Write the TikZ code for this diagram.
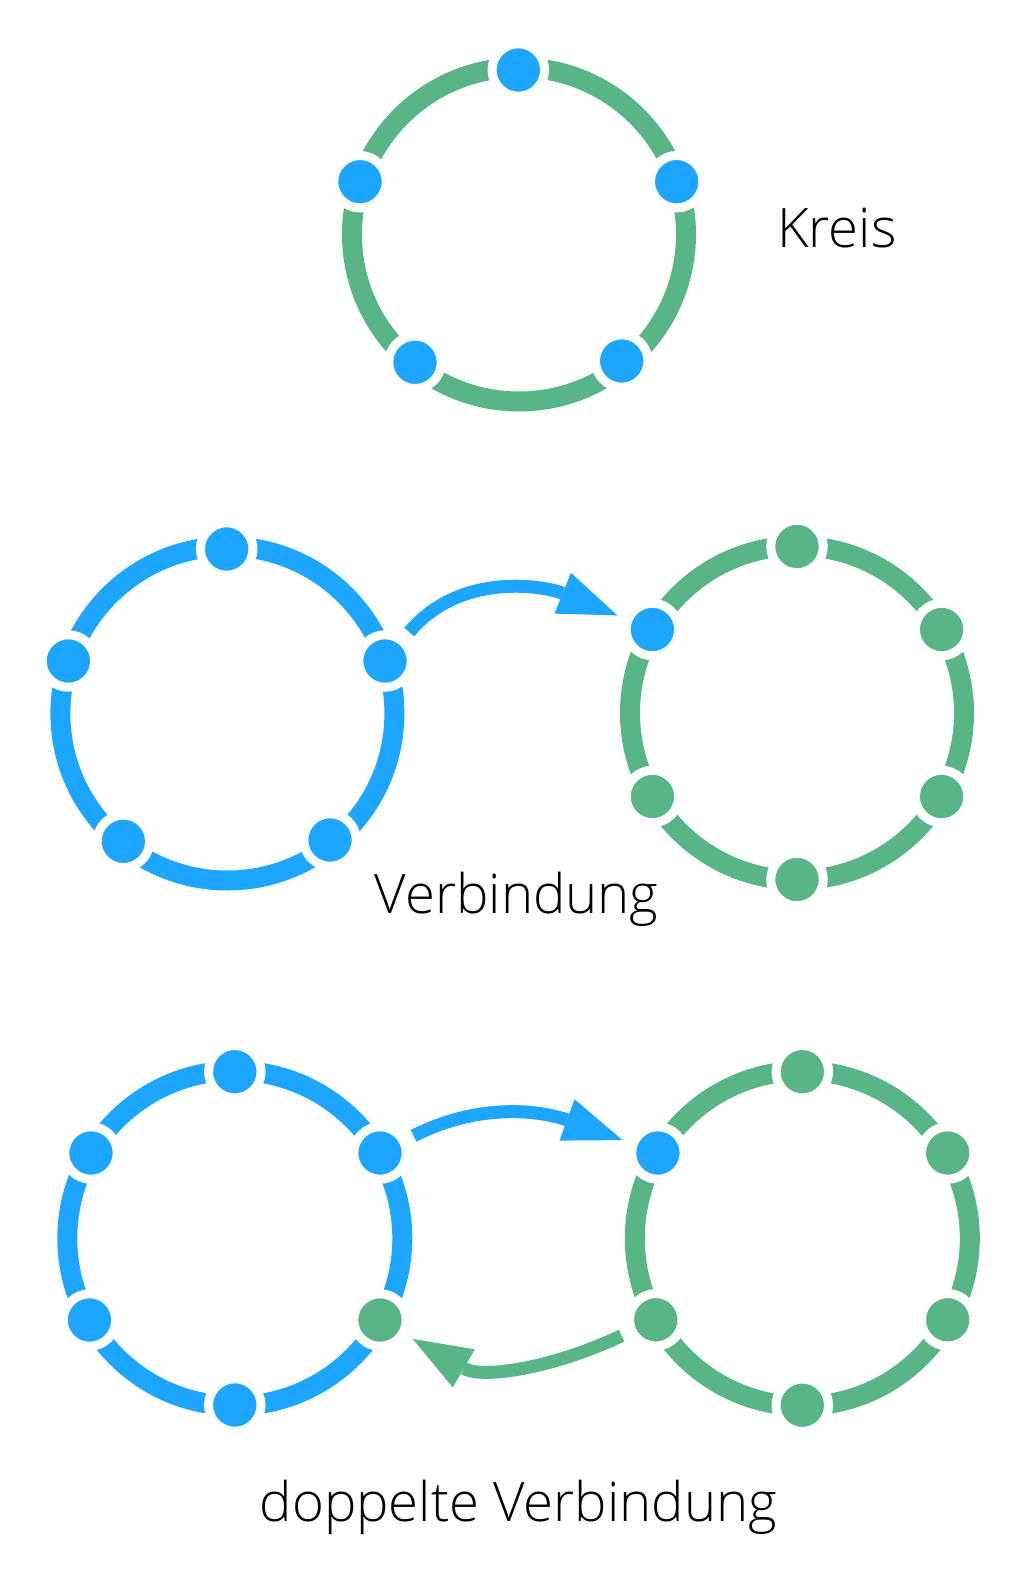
\documentclass[tikz,border=0pt]{standalone}
\usepackage{fontspec}
\setmainfont{Open Sans Light}
\usepackage{tikz}
\usetikzlibrary{arrows.meta}
\definecolor{ringblue}{HTML}{1DA6FF}
\definecolor{ringgreen}{HTML}{57B586}
\tikzset{
  ring/.style={line width=0.4cm},
  dot/.style={circle, draw=white, line width=0.18cm, minimum size=1.05cm, inner sep=0pt},
  bluedot/.style={dot, fill=ringblue},
  greendot/.style={dot, fill=ringgreen},
  link/.style={line width=0.26cm, -{Triangle[length=1.18cm,width=0.88cm,line width=0pt]},
    shorten <=0.14cm, shorten >=0.14cm},
  caption/.style={font=\fontsize{31}{36}\selectfont, anchor=base}
}
\begin{document}
\begin{tikzpicture}[x=0.02cm, y=0.02cm]
          \useasboundingbox (0, 0) rectangle (1030, -1594);

          \draw[ring, ringgreen] (519, -234.5) circle (167);
          \draw[ring, ringblue] (227.4, -713.5) circle (167);
          \draw[ring, ringgreen] (797, -713) circle (167);
          \draw[ring, ringblue] (234.8, -1238.3) circle (167.5);
          \draw[ring, ringgreen] (802.3, -1238.4) circle (167.5);

          \node[bluedot] (kt) at (518.3, -70) {};
          \node[bluedot] (kl) at (360, -181.7) {};
          \node[bluedot] (kr) at (676.7, -181.7) {};
          \node[bluedot] (kll) at (415, -362.3) {};
          \node[bluedot] (klr) at (621.7, -361) {};

          \node[bluedot] (vt) at (226.7, -549) {};
          \node[bluedot] (vl) at (68.4, -661) {};
          \node[bluedot] (vr) at (385, -661) {};
          \node[bluedot] (vll) at (123.4, -841.3) {};
          \node[bluedot] (vlr) at (330, -840) {};

          \node[greendot] (wt) at (797, -546.5) {};
          \node[bluedot] (wul) at (652.4, -629.5) {};
          \node[greendot] (wur) at (941.6, -629.5) {};
          \node[greendot] (wll) at (652.4, -796.5) {};
          \node[greendot] (wlr) at (941.6, -796.5) {};
          \node[greendot] (wb) at (797, -879.5) {};

          \node[bluedot] (dat) at (234.8, -1071.7) {};
          \node[bluedot] (daul) at (91, -1153) {};
          \node[bluedot] (daur) at (380, -1153) {};
          \node[bluedot] (dall) at (89.5, -1320) {};
          \node[greendot] (dalr) at (380, -1320) {};
          \node[bluedot] (dab) at (234.8, -1405) {};

          \node[greendot] (dbt) at (802.3, -1071.7) {};
          \node[bluedot] (dbul) at (657.9, -1153) {};
          \node[greendot] (dbur) at (947.7, -1153) {};
          \node[greendot] (dbll) at (655.8, -1319.8) {};
          \node[greendot] (dblr) at (947.7, -1319.8) {};
          \node[greendot] (dbb) at (802.3, -1405.2) {};

          \draw[link, ringblue] (vr) to[out=50, in=158] (wul);
          \draw[link, ringblue] (daur) to[out=27, in=160] (dbul);
          \draw[link, ringgreen] (dbll) to[out=205, in=-30] (dalr);

          \node[caption] (kreis) at (836.7, -248) {Kreis};
          \node[caption] (verb) at (516.7, -913.3) {Verbindung};
          \node[caption] (doppel) at (518.3, -1521) {doppelte Verbindung};
\end{tikzpicture}
\end{document}
